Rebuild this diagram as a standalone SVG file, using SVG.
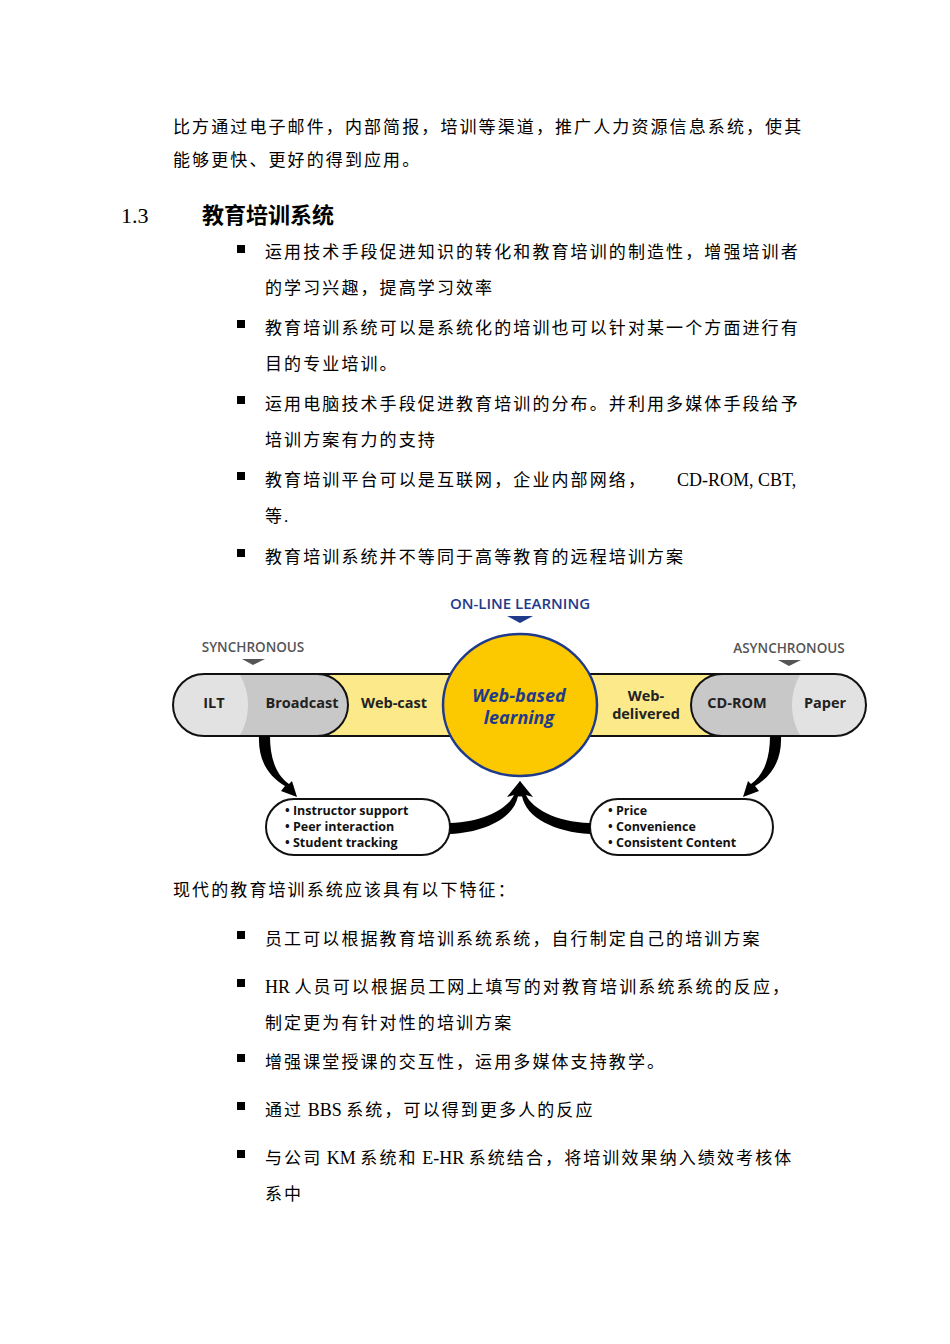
<svg xmlns="http://www.w3.org/2000/svg" width="950" height="1344" viewBox="0 0 950 1344">
<style>
.t{font-family:"Liberation Serif","Noto Sans CJK SC",serif;font-size:17px;letter-spacing:2.1px;fill:#000}
.l{letter-spacing:0;font-size:18px}
.h{font-family:"Noto Sans CJK SC",sans-serif;font-size:22px;font-weight:bold}
.d{font-family:"Open Sans","DejaVu Sans",sans-serif;font-weight:bold;font-size:14.5px;fill:#222}
.s{font-family:"Open Sans","DejaVu Sans",sans-serif;font-weight:bold;font-size:12.5px;fill:#111}
.g{font-family:"Open Sans","DejaVu Sans",sans-serif;font-weight:600;font-size:13.5px;fill:#555}
.ln{stroke:#111;stroke-width:2}
.b{fill:#000}
</style>
<rect width="950" height="1344" fill="#fff"/>
<g id="text">
<text class="t" x="173" y="133">比方通过电子邮件，内部简报，培训等渠道，推广人力资源信息系统，使其</text>
<text class="t" x="173" y="166">能够更快、更好的得到应用。</text>
<text class="t" x="121" y="223" style="font-size:22px;letter-spacing:0">1.3</text>
<text class="h" x="202" y="223">教育培训系统</text>
<rect class="b" x="237" y="245" width="8" height="8"/>
<text class="t" x="265" y="258">运用技术手段促进知识的转化和教育培训的制造性，增强培训者</text>
<text class="t" x="265" y="294">的学习兴趣，提高学习效率</text>
<rect class="b" x="237" y="320" width="8" height="8"/>
<text class="t" x="265" y="334">教育培训系统可以是系统化的培训也可以针对某一个方面进行有</text>
<text class="t" x="265" y="370">目的专业培训。</text>
<rect class="b" x="237" y="396" width="8" height="8"/>
<text class="t" x="265" y="410">运用电脑技术手段促进教育培训的分布。并利用多媒体手段给予</text>
<text class="t" x="265" y="446">培训方案有力的支持</text>
<rect class="b" x="237" y="472" width="8" height="8"/>
<text class="t" x="265" y="486">教育培训平台可以是互联网，企业内部网络，</text>
<text class="t l" x="677" y="486">CD-ROM, CBT,</text>
<text class="t" x="265" y="522">等.</text>
<rect class="b" x="237" y="549" width="8" height="8"/>
<text class="t" x="265" y="563">教育培训系统并不等同于高等教育的远程培训方案</text>
<text class="t" x="173" y="896">现代的教育培训系统应该具有以下特征：</text>
<rect class="b" x="237" y="931" width="8" height="8"/>
<text class="t" x="265" y="945">员工可以根据教育培训系统系统，自行制定自己的培训方案</text>
<rect class="b" x="237" y="979" width="8" height="8"/>
<text class="t" x="265" y="993"><tspan class="l">HR </tspan>人员可以根据员工网上填写的对教育培训系统系统的反应，</text>
<text class="t" x="265" y="1029">制定更为有针对性的培训方案</text>
<rect class="b" x="237" y="1054" width="8" height="8"/>
<text class="t" x="265" y="1068">增强课堂授课的交互性，运用多媒体支持教学。</text>
<rect class="b" x="237" y="1102" width="8" height="8"/>
<text class="t" x="265" y="1116">通过<tspan class="l"> BBS </tspan>系统，可以得到更多人的反应</text>
<rect class="b" x="237" y="1150" width="8" height="8"/>
<text class="t" x="265" y="1164">与公司<tspan class="l"> KM </tspan>系统和<tspan class="l"> E-HR </tspan>系统结合，将培训效果纳入绩效考核体</text>
<text class="t" x="265" y="1200">系中</text>
</g>
<g id="labels">
<text x="520" y="609" text-anchor="middle" class="g" style="fill:#1f3a8a;font-size:15px">ON-LINE LEARNING</text>
<polygon points="507,616 533,616 520,623" fill="#1f3a8a"/>
<text x="253" y="652" text-anchor="middle" class="g">SYNCHRONOUS</text>
<polygon points="242,659 265,659 253,665" fill="#555"/>
<text x="789" y="653" text-anchor="middle" class="g">ASYNCHRONOUS</text>
<polygon points="778,660 801,660 789,666" fill="#555"/>
</g>
<g id="bar">
<rect x="300" y="674" width="440" height="62" style="fill:#fbe98a" class="ln"/>
</g>
<g id="sync-pill">
<path d="M204,674 H317 A31,31 0 0 1 317,736 H204 A31,31 0 0 1 204,674Z" style="fill:#c8c8c8"/>
<path d="M204,675 H240 A60,60 0 0 1 240,735 H204 A30,30 0 0 1 204,675Z" style="fill:#e2e2e2"/>
<path d="M204,674 H317 A31,31 0 0 1 317,736 H204 A31,31 0 0 1 204,674Z" style="fill:none" class="ln"/>
<text x="214" y="708" text-anchor="middle" class="d">ILT</text>
<text x="302" y="708" text-anchor="middle" class="d">Broadcast</text>
</g>
<text x="394" y="708" text-anchor="middle" class="d">Web-cast</text>
<text x="646" y="701" text-anchor="middle" class="d">Web-</text>
<text x="646" y="719" text-anchor="middle" class="d">delivered</text>
<g id="async-pill">
<path d="M722,674 H835 A31,31 0 0 1 835,736 H722 A31,31 0 0 1 722,674Z" style="fill:#c8c8c8"/>
<path d="M800,675 H835 A30,30 0 0 1 835,735 H800 A60,60 0 0 1 800,675Z" style="fill:#e2e2e2"/>
<path d="M722,674 H835 A31,31 0 0 1 835,736 H722 A31,31 0 0 1 722,674Z" style="fill:none" class="ln"/>
<text x="737" y="708" text-anchor="middle" class="d">CD-ROM</text>
<text x="825" y="708" text-anchor="middle" class="d">Paper</text>
</g>
<g id="center">
<ellipse cx="520" cy="705" rx="77" ry="71" fill="#fcc800" stroke="#1f3a8a" stroke-width="2.5"/>
<text x="519" y="702" text-anchor="middle" class="d" style="font-size:18px;font-style:italic;fill:#1f3a8a">Web-based</text>
<text x="519" y="724" text-anchor="middle" class="d" style="font-size:18px;font-style:italic;fill:#1f3a8a">learning</text>
</g>
<g id="box-left">
<rect x="266" y="799" width="184" height="56" rx="28" style="fill:#fff" class="ln"/>
<text x="285" y="815" class="s">• Instructor support</text>
<text x="285" y="831" class="s">• Peer interaction</text>
<text x="285" y="847" class="s">• Student tracking</text>
</g>
<g id="box-right">
<rect x="590" y="799" width="183" height="56" rx="28" style="fill:#fff" class="ln"/>
<text x="608" y="815" class="s">• Price</text>
<text x="608" y="831" class="s">• Convenience</text>
<text x="608" y="847" class="s">• Consistent Content</text>
</g>
<g id="connectors" fill="#000">
<path d="M259,736 C258,760 268,776 285,786 L281,791 L297,797 L292,781 L289,784 C276,775 270,758 270,736Z"/>
<path d="M781,736 C782,760 772,776 755,786 L759,791 L743,797 L748,781 L751,784 C764,775 770,758 770,736Z"/>
<path d="M450,823 C485,822 508,808 514,795 L507,797 L520,781 L526,797 L518,796 C514,818 485,832 450,834Z"/>
<path d="M590,823 C555,822 532,808 526,795 L533,797 L520,781 L514,797 L522,796 C526,818 555,832 590,834Z"/>
</g>
</svg>
